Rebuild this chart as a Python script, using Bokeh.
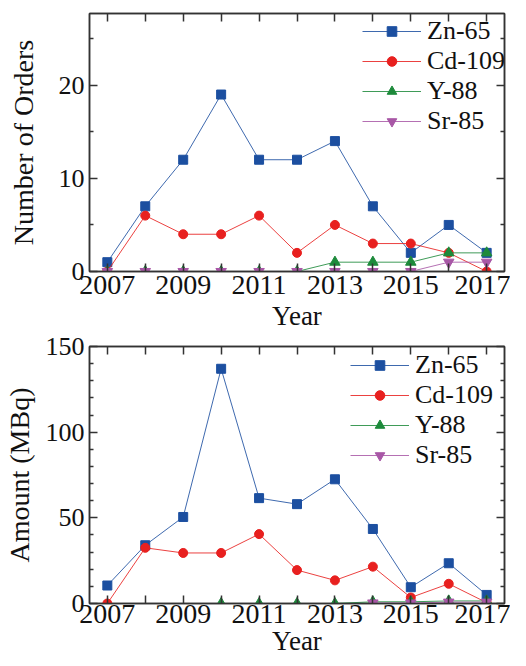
from bokeh.plotting import figure
from bokeh.models import Range1d, FixedTicker, LinearAxis, Legend, LegendItem
from bokeh.layouts import column
from bokeh.embed import file_html
from bokeh.resources import INLINE

years = list(range(2007, 2018))
series_names = ["Zn-65", "Cd-109", "Y-88", "Sr-85"]

zn_orders = [1, 7, 12, 19, 12, 12, 14, 7, 2, 5, 2]
cd_orders = [0, 6, 4, 4, 6, 2, 5, 3, 3, 2, 0]
y_orders = [0, 0, 0, 0, 0, 0, 1, 1, 1, 2, 2]
sr_orders = [0, 0, 0, 0, 0, 0, 0, 0, 0, 1, 1]

nan = float("nan")
zn_amount = [10.5, 34, 50.5, 137, 61.5, 58, 72.5, 43.5, 9.5, 23.5, 5]
cd_amount = [0, 32.5, 29.5, 29.5, 40.5, 19.5, 13.5, 21.5, 3.5, 11.5, 0.5]
y_amount = [nan, nan, nan, 0, 0, 0, 0, 1, 1, 1.5, 1.5]
sr_amount = [nan, nan, nan, nan, nan, nan, nan, 0.3, 0.3, 0.8, 0.8]

x_tick_labels = {y: (str(y) if y % 2 == 1 else "") for y in years}
x_title = "Year"

colors = ["#1c4fa0", "#e8201f", "#1d8a3b", "#a857a6"]
markers = ["square", "circle", "triangle", "inverted_triangle"]
msizes = [9, 9, 10.5, 10.5]

FONT = "Liberation Serif"
AXC = "#333333"
FRAME_H = 258


def style_axis(ax, show_labels=True):
    ax.axis_line_color = AXC
    ax.axis_line_width = 1.5
    ax.major_tick_line_color = AXC
    ax.minor_tick_line_color = AXC
    ax.major_tick_line_width = 1.5
    ax.minor_tick_line_width = 1.5
    ax.major_tick_in = 8
    ax.major_tick_out = 0
    ax.minor_tick_in = 4
    ax.minor_tick_out = 0
    ax.major_label_text_font = FONT
    ax.major_label_text_color = "#111111"
    ax.axis_label_text_font = FONT
    ax.axis_label_text_color = "#111111"
    ax.axis_label_text_font_style = "normal"
    if not show_labels:
        ax.major_label_text_font_size = "0px"
        ax.major_label_standoff = 0


def make_plot(series, ymax, yticks, yminor, ylabel, top_border, bottom_border,
              ylab_standoff, tick_standoff, year_standoff, legend_x, legend_top):
    height = top_border + FRAME_H + bottom_border
    p = figure(width=510, height=height, output_backend="svg", toolbar_location=None,
               x_range=Range1d(2006.53, 2017.47), y_range=Range1d(0, ymax),
               min_border_left=78, min_border_right=6, min_border_top=top_border,
               min_border_bottom=bottom_border)
    p.grid.visible = False
    p.outline_line_color = AXC
    p.outline_line_width = 1.5
    p.background_fill_color = "white"
    p.border_fill_color = "white"

    xt = FixedTicker(ticks=years, minor_ticks=[])
    yt = FixedTicker(ticks=yticks, minor_ticks=yminor)

    xa = p.xaxis[0]
    xa.ticker = xt
    xa.major_label_overrides = x_tick_labels
    style_axis(xa)
    xa.major_label_text_font_size = "28px"
    xa.major_label_standoff = tick_standoff
    xa.axis_label = x_title
    xa.axis_label_text_font_size = "27px"
    xa.axis_label_standoff = year_standoff

    ya = p.yaxis[0]
    ya.ticker = yt
    style_axis(ya)
    ya.major_label_text_font_size = "26px"
    ya.major_label_standoff = 5
    ya.axis_label = ylabel
    ya.axis_label_text_font_size = "28px"
    ya.axis_label_standoff = ylab_standoff

    ta = LinearAxis(ticker=xt)
    style_axis(ta, show_labels=False)
    p.add_layout(ta, "above")
    ra = LinearAxis(ticker=yt)
    style_axis(ra, show_labels=False)
    p.add_layout(ra, "right")

    items = []
    for name, vals, c, m, s in zip(series_names, series, colors, markers, msizes):
        r1 = p.line(years, vals, line_color=c, line_width=1, line_alpha=0.85)
        r2 = p.scatter(years, vals, marker=m, size=s, fill_color=c, line_color=c)
        items.append(LegendItem(label=name, renderers=[r1, r2]))

    legend = Legend(items=items, location=(legend_x, FRAME_H - legend_top - 120),
                    orientation="vertical",
                    label_text_font=FONT, label_text_font_size="26px",
                    label_text_color="#111111",
                    glyph_width=59, glyph_height=24, label_height=30, label_standoff=6,
                    spacing=0, padding=0, margin=0,
                    border_line_alpha=0, background_fill_alpha=0)
    p.add_layout(legend, "center")
    return p


p1 = make_plot([zn_orders, cd_orders, y_orders, sr_orders], 27.7, [0, 10, 20], [5, 15, 25],
               "Number of Orders", 13, 62, 17, 4, 4, 273, 3)
p2 = make_plot([zn_amount, cd_amount, y_amount, sr_amount], 150, [0, 50, 100, 150],
               [10, 20, 30, 40, 60, 70, 80, 90, 110, 120, 130, 140],
               "Amount (MBq)", 13, 54, 8, 1, 0, 261, 5)

layout = column(p1, p2, spacing=0)
open("out.html", "w").write(file_html(layout, INLINE))
